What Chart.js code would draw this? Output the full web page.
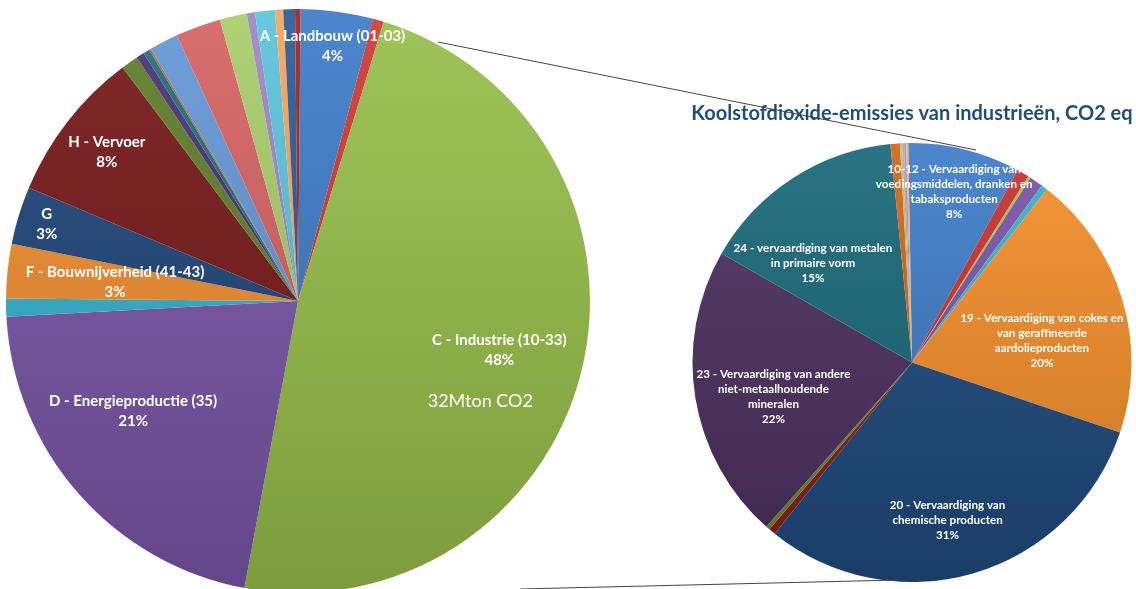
<!DOCTYPE html>
<html>
<head>
<meta charset="utf-8">
<script src="https://cdn.jsdelivr.net/npm/chart.js@4/dist/chart.umd.min.js"></script>
<style>
  html, body {
    margin: 0;
    padding: 0;
    background: #fff;
  }
  .page {
    position: relative;
    width: 1136px;
    height: 589px;
    overflow: hidden;
  }
  #sectorChart {
    position: absolute;
    left: 6px;
    top: 9px;
  }
  #industryChart {
    position: absolute;
    left: 688px;
    top: 96px;
  }
  #connectors {
    position: absolute;
    left: 0;
    top: 0;
    pointer-events: none;
  }
</style>
</head>
<body>
<div class="page">
  <canvas id="sectorChart" width="584" height="584"></canvas>
  <canvas id="industryChart" width="448" height="486"></canvas>
  <canvas id="connectors" width="1136" height="589"></canvas>
</div>
<script>
// Emissies per sector (% van totaal)
const sectorLabels = [
  'A - Landbouw (01-03)', '', 'C - Industrie (10-33)', 'D - Energieproductie (35)', '',
  'F - Bouwnijverheid (41-43)', 'G', 'H - Vervoer', '', '', '', '', '', '', '', '', '', '', '', ''
];
const sectorValues = [
  4.0, 0.6, 48.2, 21.2, 1.0, 3.0, 3.2, 8.4, 0.95, 0.45,
  0.35, 0.1, 1.6, 2.5, 1.5, 0.45, 1.1, 0.45, 0.65, 0.3
];
const industrieNote = '32Mton CO2';

// Emissies binnen de industrie (% van industrie)
const industryTitle = 'Koolstofdioxide-emissies van industrieën, CO2 eq';
const industryLabels = [
  '10-12 - Vervaardiging van\nvoedingsmiddelen, dranken en\ntabaksproducten', '', '', '', '',
  '19 - Vervaardiging van cokes en\nvan geraffineerde\naardolieproducten',
  '20 - Vervaardiging van\nchemische producten', '', '',
  '23 - Vervaardiging van andere\nniet-metaalhoudende\nmineralen',
  '24 - vervaardiging van metalen\nin primaire vorm', '', '', '', '', ''
];
const industryValues = [
  8.3, 0.9, 0.2, 1.0, 0.45, 19.7, 30.7, 0.5, 0.3, 21.8,
  15.2, 0.7, 0.15, 0.15, 0.15, 0.15
];

const sectorColors = [
  '#3d7cc9', '#cf3832', '#98bf4a', '#7a55a8', '#35b2d0', '#f28e2e', '#1f4579', '#761818',
  '#5e7e28', '#4b2f74', '#1b6f7f', '#c65f18', '#6597d7', '#d66262', '#a9cd6a', '#9d86c3',
  '#5bc3dc', '#f6a55a', '#2a5b98', '#a0221e'
];
const industryColors = [
  '#3d7cc9', '#c8322c', '#a8c04a', '#7d52a5', '#30b4d4', '#f48e2a', '#1f4a7e', '#8a1e1a',
  '#6a8c2c', '#4b2f60', '#186878', '#d0651a', '#c9c24a', '#a8a8a8', '#a48ed0', '#f5b06a'
];

function shade(hex, f) {
  const n = parseInt(hex.slice(1), 16);
  const t = f < 0 ? 0 : 255;
  const p = Math.abs(f);
  const c = [n >> 16, (n >> 8) & 255, n & 255].map((v) => Math.round((t - v) * p + v));
  return `rgb(${c[0]}, ${c[1]}, ${c[2]})`;
}

// lighter on top, darker at the bottom of the pie
function gradientFill(colors) {
  return (context) => {
    const color = colors[context.dataIndex];
    const area = context.chart.chartArea;
    if (!area) {
      return color;
    }
    const g = context.chart.ctx.createLinearGradient(0, area.top, 0, area.bottom);
    g.addColorStop(0, shade(color, 0.08));
    g.addColorStop(1, shade(color, -0.18));
    return g;
  };
}

// white labels inside the slices: name lines + rounded share
function sliceLabels(cfg) {
  return {
    id: 'sliceLabels',
    afterDatasetsDraw(chart) {
      const ctx = chart.ctx;
      const meta = chart.getDatasetMeta(0);
      const values = chart.data.datasets[0].data;
      const total = values.reduce((a, b) => a + b, 0);
      ctx.save();
      ctx.fillStyle = '#fff';
      ctx.textAlign = 'center';
      ctx.textBaseline = 'middle';
      cfg.items.forEach((item) => {
        const arc = meta.data[item.idx];
        const p = arc.getProps(['x', 'y', 'startAngle', 'endAngle', 'outerRadius'], true);
        const mid = (p.startAngle + p.endAngle) / 2 + ((item.tilt || 0) * Math.PI) / 180;
        const r = p.outerRadius * item.rad;
        const cx = p.x + Math.cos(mid) * r;
        const cy = p.y + Math.sin(mid) * r;
        const lines = chart.data.labels[item.idx].split('\n');
        lines.push(Math.round((values[item.idx] / total) * 100) + '%');
        ctx.font = cfg.font;
        const top = cy - ((lines.length - 1) * cfg.lineHeight) / 2;
        lines.forEach((line, i) => {
          ctx.fillText(line, cx, top + i * cfg.lineHeight);
        });
        if (item.note) {
          ctx.font = item.note.font;
          ctx.fillText(item.note.text, cx + item.note.dx, cy + item.note.dy);
        }
      });
      ctx.restore();
    },
  };
}

function pieOptions(rotation, title) {
  return {
    responsive: false,
    animation: false,
    rotation: rotation,
    layout: { padding: 0 },
    plugins: {
      legend: { display: false },
      tooltip: { enabled: false },
      title: title,
    },
  };
}

new Chart(document.getElementById('sectorChart'), {
  type: 'pie',
  data: {
    labels: sectorLabels,
    datasets: [
      {
        data: sectorValues,
        backgroundColor: gradientFill(sectorColors),
        borderWidth: 0,
      },
    ],
  },
  options: pieOptions(0.5, { display: false }),
  plugins: [
    sliceLabels({
      font: 'bold 15px Lato',
      lineHeight: 20,
      items: [
        { idx: 0, rad: 0.88 },
        {
          idx: 2,
          rad: 0.71,
          note: { text: industrieNote, dx: -19, dy: 51, font: '18px Lato' },
        },
        { idx: 3, rad: 0.68, tilt: 7.4 },
        { idx: 5, rad: 0.63 },
        { idx: 6, rad: 0.9 },
        { idx: 7, rad: 0.83 },
      ],
    }),
  ],
});

new Chart(document.getElementById('industryChart'), {
  type: 'pie',
  data: {
    labels: industryLabels,
    datasets: [
      {
        data: industryValues,
        backgroundColor: gradientFill(industryColors),
        borderWidth: 0,
      },
    ],
  },
  options: pieOptions(-1, {
    display: true,
    text: industryTitle,
    color: '#1f4e79',
    font: { family: 'Lato', size: 20, weight: 'bold', lineHeight: 1.2 },
    padding: { top: 6, bottom: 17 },
  }),
  plugins: [
    sliceLabels({
      font: 'bold 11.6px Lato',
      lineHeight: 15,
      items: [
        { idx: 0, rad: 0.8 },
        { idx: 5, rad: 0.6, tilt: 7.4 },
        { idx: 6, rad: 0.735, tilt: 3.6 },
        { idx: 9, rad: 0.65, tilt: -4.5 },
        { idx: 10, rad: 0.64, tilt: -11.9 },
      ],
    }),
  ],
});

// thin lines linking the industry slice to the detail pie
const lc = document.getElementById('connectors').getContext('2d');
lc.strokeStyle = '#444';
lc.lineWidth = 1;
lc.beginPath();
lc.moveTo(438, 42);
lc.lineTo(976, 150);
lc.moveTo(520, 589);
lc.lineTo(898, 580);
lc.stroke();
</script>
</body>
</html>
